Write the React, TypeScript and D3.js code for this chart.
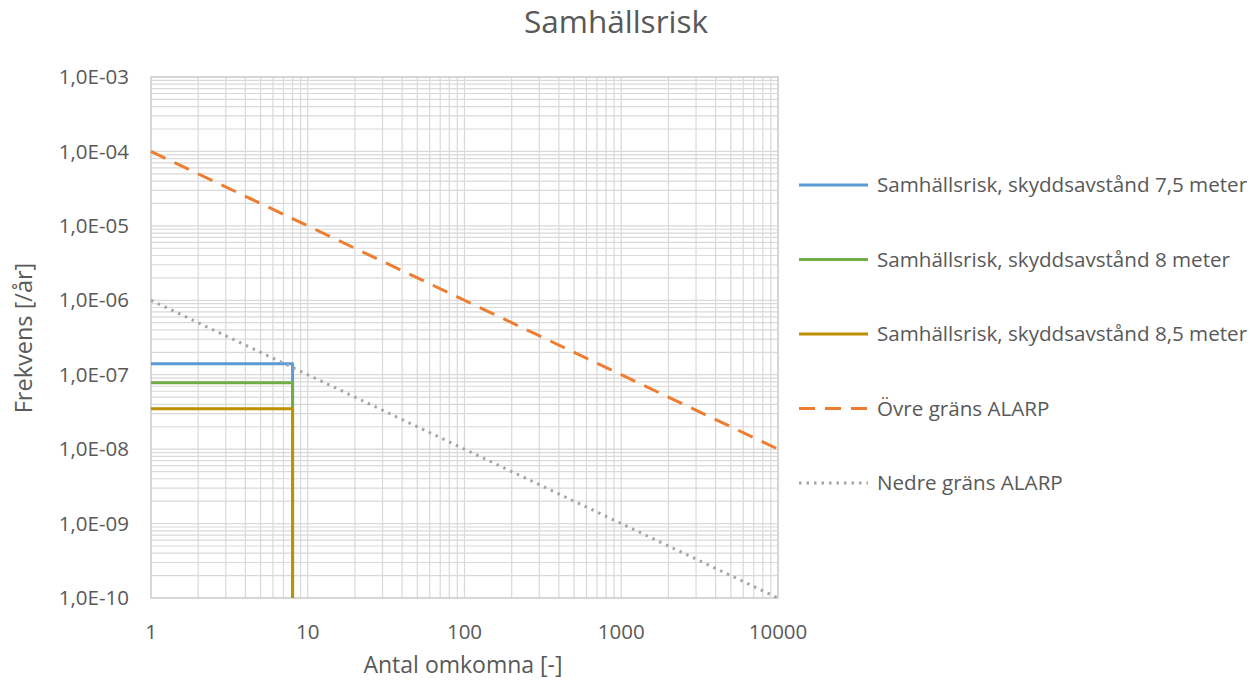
import React from 'react';
import * as d3 from 'd3';

// Data
const steps75 = [
    { n: 1, f: 1.4e-7 },
    { n: 8, f: 1.4e-7 },
    { n: 8, f: 1e-10 },
];
const steps8 = [
    { n: 1, f: 7.8e-8 },
    { n: 8, f: 7.8e-8 },
    { n: 8, f: 1e-10 },
];
const steps85 = [
    { n: 1, f: 3.5e-8 },
    { n: 8, f: 3.5e-8 },
    { n: 8, f: 1e-10 },
];
const upperAlarp = [
    { n: 1, f: 1e-4 },
    { n: 10000, f: 1e-8 },
];
const lowerAlarp = [
    { n: 1, f: 1e-6 },
    { n: 10000, f: 1e-10 },
];

const xTicks = [1, 10, 100, 1000, 10000];
const yTicks = [1e-3, 1e-4, 1e-5, 1e-6, 1e-7, 1e-8, 1e-9, 1e-10];

const seriesNames = [
    'Samhällsrisk, skyddsavstånd 7,5 meter',
    'Samhällsrisk, skyddsavstånd 8 meter',
    'Samhällsrisk, skyddsavstånd 8,5 meter',
    'Övre gräns ALARP',
    'Nedre gräns ALARP',
];

const W = 1257;
const H = 682;
const font = "'Open Sans', sans-serif";
const textColor = '#595959';

function fmtY(v: number) {
    const e = Math.round(Math.log10(v));
    const s = Math.abs(e).toString().padStart(2, '0');
    return `1,0E${e < 0 ? '-' : '+'}${s}`;
}

export default function App() {
    const x = d3.scaleLog().domain([1, 10000]).range([151, 778]);
    const y = d3.scaleLog().domain([1e-10, 1e-3]).range([598, 77]);

    const line = d3.line<{ n: number; f: number }>()
        .x(d => x(d.n))
        .y(d => y(d.f));

    // minor + major gridlines (1..9 per decade)
    const xGrid: number[] = [];
    for (let e = 0; e < 4; e++) for (let k = 1; k <= 9; k++) xGrid.push(k * Math.pow(10, e));
    xGrid.push(10000);
    const yGrid: number[] = [];
    for (let e = -10; e < -3; e++) for (let k = 1; k <= 9; k++) yGrid.push(k * Math.pow(10, e));
    yGrid.push(1e-3);

    const series = [
        { name: seriesNames[0], data: steps75, color: '#5b9bd5', dash: undefined },
        { name: seriesNames[1], data: steps8, color: '#70ad47', dash: undefined },
        { name: seriesNames[2], data: steps85, color: '#bf9000', dash: undefined },
        { name: seriesNames[3], data: upperAlarp, color: '#ed7d31', dash: '16,10' },
        { name: seriesNames[4], data: lowerAlarp, color: '#a5a5a5', dash: '2.5,5' },
    ];

    const [x0, x1] = x.range();
    const [y0, y1] = y.range();

    return (
        <div style={{ position: 'fixed', left: 0, top: 0 }}>
            <svg width={W} height={H} style={{ display: 'block', background: '#fff' }}>
                <defs>
                    <clipPath id="legendClip">
                        <rect x={780} y={0} width={468} height={H} />
                    </clipPath>
                </defs>

                <text x={616} y={33} textAnchor="middle" fontFamily={font} fontSize={31.5} fill={textColor}>
                    Samhällsrisk
                </text>

                {/* grid */}
                <g stroke="#d9d9d9" strokeWidth={1.2}>
                    {xGrid.map((v, i) => (
                        <line key={'gx' + i} x1={x(v)} x2={x(v)} y1={y1} y2={y0} />
                    ))}
                    {yGrid.map((v, i) => (
                        <line key={'gy' + i} x1={x0} x2={x1} y1={y(v)} y2={y(v)} />
                    ))}
                </g>
                <rect x={x0} y={y1} width={x1 - x0} height={y0 - y1} fill="none" stroke="#cfcfcf" strokeWidth={1.5} />

                {/* tick labels */}
                {yTicks.map(v => (
                    <text key={'yt' + v} x={129} y={y(v)} dy="0.35em" textAnchor="end"
                        fontFamily={font} fontSize={20.5} fill={textColor}>
                        {fmtY(v)}
                    </text>
                ))}
                {xTicks.map(v => (
                    <text key={'xt' + v} x={x(v)} y={632} dy="0.35em" textAnchor="middle"
                        fontFamily={font} fontSize={20.5} fill={textColor}>
                        {v}
                    </text>
                ))}

                <text x={463} y={673} textAnchor="middle" fontFamily={font} fontSize={23} fill={textColor}>
                    Antal omkomna [-]
                </text>
                <text transform="translate(32,338) rotate(-90)" textAnchor="middle"
                    fontFamily={font} fontSize={23.5} fill={textColor}>
                    Frekvens [/år]
                </text>

                {/* series */}
                {series.map(s => (
                    <path key={s.name} d={line(s.data) || ''} fill="none" stroke={s.color}
                        strokeWidth={3} strokeDasharray={s.dash} strokeLinejoin="round" />
                ))}

                {/* legend */}
                <g clipPath="url(#legendClip)">
                    {series.map((s, i) => {
                        const ly = 185 + i * 74.5;
                        return (
                            <g key={'lg' + i}>
                                <line x1={799} x2={868} y1={ly} y2={ly} stroke={s.color} strokeWidth={3}
                                    strokeDasharray={s.dash} />
                                <text x={877} y={ly} dy="0.35em" fontFamily={font} fontSize={20.6} fill={textColor}>
                                    {s.name}
                                </text>
                            </g>
                        );
                    })}
                </g>
            </svg>
        </div>
    );
}
